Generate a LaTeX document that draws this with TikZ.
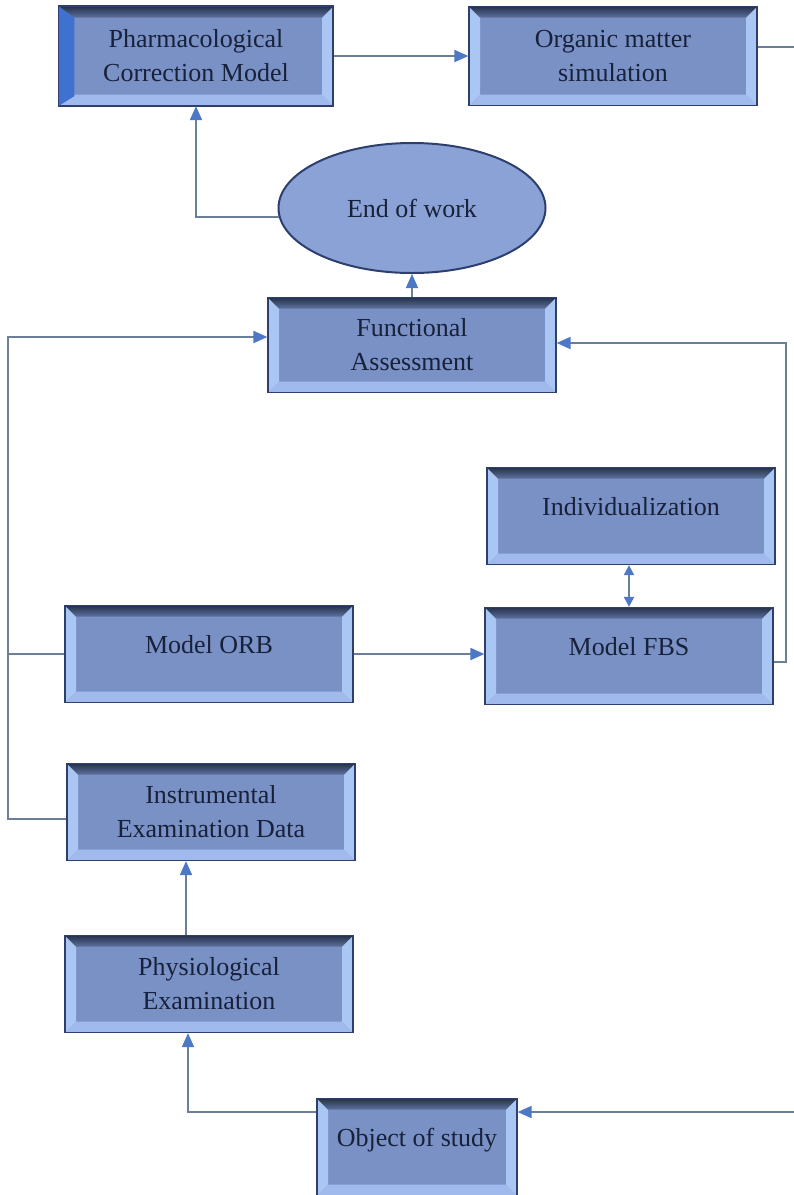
\documentclass[tikz,border=0pt]{standalone}
\usepackage{fontspec}
\usepackage{tikz}
\usetikzlibrary{positioning,shapes.geometric,arrows.meta}
\newfontfamily\boxfont{Liberation Serif}
\definecolor{boxfill}{HTML}{7A91C6}
\definecolor{boxline}{HTML}{2E3F6E}
\definecolor{bevtop}{HTML}{25324C}
\definecolor{bevtopb}{HTML}{5E719E}
\definecolor{bevlight}{HTML}{AAC6F2}
\definecolor{bevlow}{HTML}{A0BAEE}
\definecolor{boxtext}{HTML}{18213A}
\definecolor{connline}{HTML}{6C7F99}
\definecolor{tipblue}{HTML}{4D78C6}
\definecolor{pcmleft}{HTML}{3F72D0}
\definecolor{ellfill}{HTML}{8AA2D6}
\newcommand{\bev}{11pt}

\begin{document}
\begin{tikzpicture}[
x=1pt, y=-1pt,
bevelbox/.style={draw=boxline, line width=1.2pt, fill=boxfill,
  minimum width=288pt, minimum height=97pt, inner sep=0pt, align=center,
  text=boxtext, font=\boxfont\fontsize{26}{34}\selectfont,
  path picture={
    \path (path picture bounding box.north west) coordinate (bnw)
          (path picture bounding box.north east) coordinate (bne)
          (path picture bounding box.south west) coordinate (bsw)
          (path picture bounding box.south east) coordinate (bse);
    \fill[bevlight] (bnw) -- ([shift={(\bev,-\bev)}]bnw) -- ([shift={(\bev,\bev)}]bsw) -- (bsw) -- cycle;
    \fill[bevlight] (bne) -- ([shift={(-\bev,-\bev)}]bne) -- ([shift={(-\bev,\bev)}]bse) -- (bse) -- cycle;
    \fill[bevlow] (bsw) -- ([shift={(\bev,\bev)}]bsw) -- ([shift={(-\bev,\bev)}]bse) -- (bse) -- cycle;
    \shade[top color=bevtop, bottom color=bevtopb] (bnw) -- (bne) -- ([shift={(-\bev,-\bev)}]bne) -- ([shift={(\bev,-\bev)}]bnw) -- cycle;
  }},
oneline/.style={text height=18pt, text depth=20pt},
endshape/.style={ellipse, draw=boxline, line width=2pt, fill=ellfill,
  minimum width=267pt, minimum height=130pt, inner sep=0pt,
  text=boxtext, font=\boxfont\fontsize{26}{34}\selectfont},
conn/.style={draw=connline, line width=1.8pt},
arr/.style={-{Triangle[length=14pt,width=12pt,color=tipblue]}},
twoarr/.style={{Triangle[length=10pt,width=10pt,color=tipblue]}-{Triangle[length=10pt,width=10pt,color=tipblue]}}]

\useasboundingbox (0,0) rectangle (794,1195);

\node[bevelbox, minimum width=274pt, minimum height=99pt] (pcm) at (196,56) {Pharmacological\\Correction Model};
\fill[pcmleft] (pcm.north west) -- ([shift={(16pt,-12pt)}]pcm.north west)
  -- ([shift={(16pt,10pt)}]pcm.south west) -- (pcm.south west) -- cycle;
\draw[boxline, line width=1.2pt] (pcm.north west) rectangle (pcm.south east);
\node[bevelbox, minimum height=99pt] (oms) at (613,56) {Organic matter\\simulation};
\node[endshape] (eow) at (412,208) {End of work};
\node[bevelbox, minimum height=95pt] (fa) at (412,345) {Functional\\Assessment};
\node[bevelbox, oneline] (ind) at (631,516) {Individualization};
\node[bevelbox, oneline] (fbs) at (629,656) {Model FBS};
\node[bevelbox, oneline] (orb) at (209,654) {Model ORB};
\node[bevelbox] (ied) at (211,812) {Instrumental\\Examination Data};
\node[bevelbox] (phy) at (209,984) {Physiological\\Examination};
\node[bevelbox, oneline, minimum width=200pt] (obj) at (417,1147) {Object of study};

\coordinate (rt1) at (794,47);
\coordinate (rt2) at (794,1112);
\coordinate (ltop) at (8,337);
\coordinate (lbot) at (8,819);
\coordinate (rbus) at (786,343);
\coordinate (ob) at (188,1112);

\draw[conn, arr] (pcm) -- (oms);
\draw[conn] (rt1 -| oms.east) -- (rt1);
\draw[conn, arr] (eow.184) -| (pcm.south);
\draw[conn, arr] (fa) -- (eow);
\draw[conn, arr] (lbot -| ied.west) -- (lbot) -- (ltop) -- (ltop -| fa.west);
\draw[conn] (orb.west) -- (orb.west -| lbot);
\draw[conn, arr] (orb.east) -- (orb.east -| fbs.west);
\draw[conn, arr] ([yshift=-6pt]fbs.east) -| (rbus) -- (rbus -| fa.east);
\draw[conn, twoarr] (ind.south -| fbs.north) -- (fbs.north);
\draw[conn, arr] ([xshift=-23pt]phy.north) -- ([xshift=-23pt]phy.north |- ied.south);
\draw[conn, arr] (ob -| obj.west) -- (ob) -- (ob |- phy.south);
\draw[conn, arr] (rt2) -- (rt2 -| obj.east);
\end{tikzpicture}
\end{document}
